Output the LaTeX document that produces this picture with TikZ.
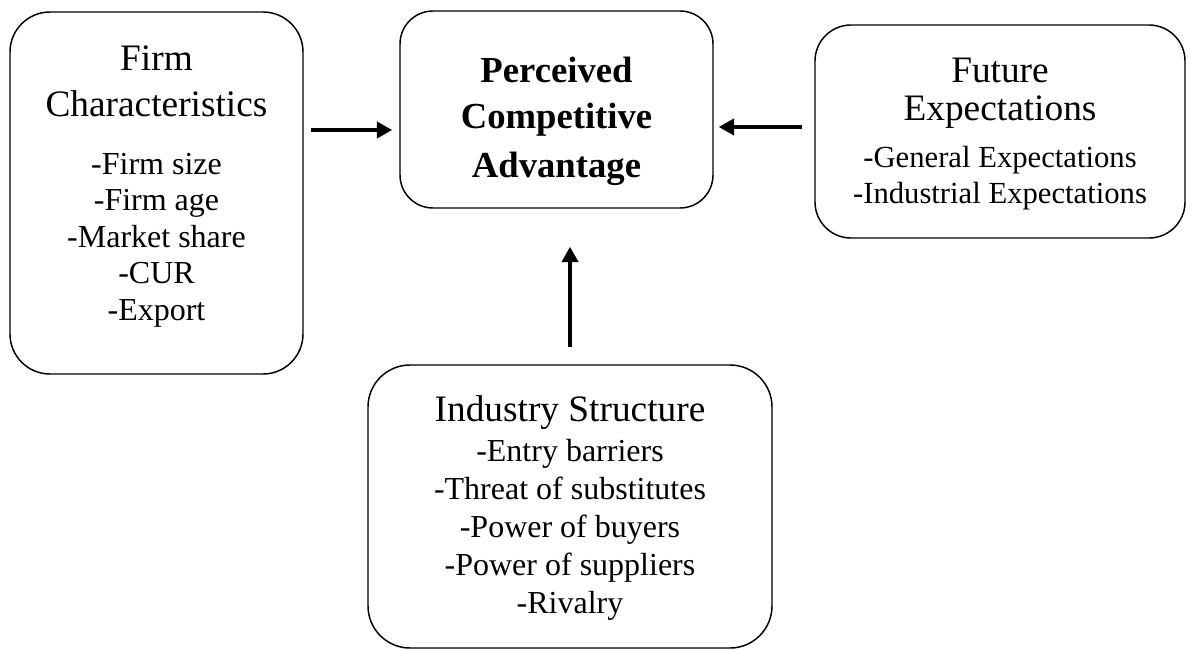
\documentclass[tikz,border=0pt]{standalone}
\usepackage{fontspec}
\setmainfont{Liberation Serif}
\usetikzlibrary{arrows.meta}
\begin{document}
\begin{tikzpicture}[x=0.75pt,y=-0.75pt,
  box/.style={draw, line width=1.1pt, rounded corners=#1, inner sep=0pt},
  txt/.style={anchor=base, inner sep=0pt},
  ttl/.style={txt, font=\fontsize{28pt}{34pt}\selectfont},
  bld/.style={txt, font=\fontsize{27.5pt}{34pt}\selectfont\bfseries},
  itA/.style={txt, font=\fontsize{24pt}{28pt}\selectfont},
  itB/.style={txt, font=\fontsize{23pt}{27pt}\selectfont},
  arr/.style={line width=3pt, -{Triangle[length=11.5pt, width=12pt]}}]
\useasboundingbox (0,0) rectangle (1193,650);
% boxes
\node[box=30pt, minimum width=219.75pt, minimum height=271.5pt] (firm) at (156.5,193) {};
\node[box=24.75pt, minimum width=234.75pt, minimum height=147.75pt] (pca) at (556.5,109.5) {};
\node[box=27pt, minimum width=277.5pt, minimum height=159.75pt] (fut) at (1000,131.5) {};
\node[box=31.5pt, minimum width=303pt, minimum height=212.25pt] (ind) at (570,506.5) {};
% firm characteristics
\node[ttl] (f1) at (156.5,70) {Firm};
\node[ttl] (f2) at (156.5,116) {Characteristics};
\foreach \t [count=\i] in {-Firm size,-Firm age,-Market share,-CUR,-Export}
  \node[itA] (fi\i) at (156.5,{174+36.5*(\i-1)}) {\t};
% perceived competitive advantage
\node[bld] (p1) at (556.5,82) {Perceived};
\node[bld] (p2) at (556.5,128) {Competitive};
\node[bld] (p3) at (556.5,177) {Advantage};
% future expectations
\node[ttl] (e1) at (1000,82) {Future};
\node[ttl] (e2) at (1000,120) {Expectations};
\node[itB] (ei1) at (1000,167) {-General Expectations};
\node[itB] (ei2) at (1000,203) {-Industrial Expectations};
% industry structure
\node[ttl] (s1) at (570,421) {Industry Structure};
\foreach \t [count=\i] in {-Entry barriers,-Threat of substitutes,-Power of buyers,-Power of suppliers,-Rivalry}
  \node[itA] (si\i) at (570,{461+38*(\i-1)}) {\t};
% connectors
\coordinate (yA) at (0,130);
\coordinate (yB) at (0,127);
\coordinate (xC) at (570,0);
\draw[arr, shorten <=5.25pt, shorten >=5.25pt] (firm.east |- yA) -- (pca.west |- yA);
\draw[arr, shorten <=9pt, shorten >=3.75pt] (fut.west |- yB) -- (pca.east |- yB);
\draw[arr, shorten <=12.75pt, shorten >=28.5pt] (ind.north -| xC) -- (pca.south -| xC);
\end{tikzpicture}
\end{document}
